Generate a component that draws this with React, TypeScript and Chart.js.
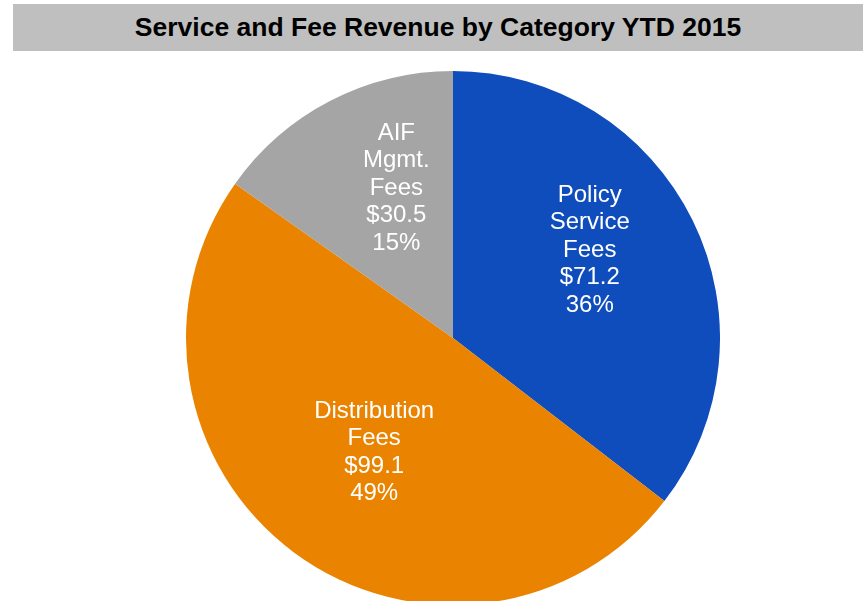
import React, { useEffect, useRef } from "react";
import { Chart, registerables } from "chart.js";

Chart.register(...registerables);

const categories: string[][] = [
  ["Policy", "Service", "Fees"],
  ["Distribution", "Fees"],
  ["AIF", "Mgmt.", "Fees"],
];
const values: number[] = [71.2, 99.1, 30.5];
const valueLabels: string[] = ["$71.2", "$99.1", "$30.5"];
const percentLabels: string[] = ["36%", "49%", "15%"];
const colors: string[] = ["#104DBC", "#E98300", "#A5A5A5"];
const title = "Service and Fee Revenue by Category YTD 2015";

// label placement styling: radial fraction and angular shift (degrees)
const labelRadius: number[] = [0.612, 0.515, 0.605];
const labelAngleShift: number[] = [-7.0, -1.5, 6.8];

const labelPlugin = {
  id: "sliceLabels",
  afterDatasetsDraw(chart: any) {
    const ctx = chart.ctx;
    const meta = chart.getDatasetMeta(0);
    ctx.save();
    ctx.fillStyle = "#FFFFFF";
    ctx.font = "24px 'Liberation Sans', Arial, sans-serif";
    ctx.textAlign = "center";
    ctx.textBaseline = "middle";
    const lineH = 27.5;
    meta.data.forEach((arc: any, i: number) => {
      const p = arc.getProps(["x", "y", "startAngle", "endAngle", "outerRadius"], true);
      const mid = (p.startAngle + p.endAngle) / 2 + (labelAngleShift[i] * Math.PI) / 180;
      const r = p.outerRadius * labelRadius[i];
      const cx = p.x + Math.cos(mid) * r;
      const cy = p.y + Math.sin(mid) * r + 1.5;
      const lines = [...categories[i], valueLabels[i], percentLabels[i]];
      const top = cy - ((lines.length - 1) * lineH) / 2;
      lines.forEach((ln, j) => ctx.fillText(ln, cx, top + j * lineH));
    });
    ctx.restore();
  },
};

export default function App() {
  const ref = useRef<HTMLCanvasElement | null>(null);
  useEffect(() => {
    if (!ref.current) return;
    const chart = new Chart(ref.current, {
      type: "pie",
      data: {
        labels: categories.map((c) => c.join(" ")),
        datasets: [
          {
            data: values,
            backgroundColor: colors,
            borderWidth: 0,
          },
        ],
      },
      options: {
        animation: false,
        responsive: false,
        maintainAspectRatio: false,
        rotation: 0,
        layout: { padding: 0 },
        plugins: {
          legend: { display: false },
          tooltip: { enabled: false },
          title: { display: false },
        },
      },
      plugins: [labelPlugin],
    });
    return () => chart.destroy();
  }, []);

  return (
    <div
      style={{
        position: "fixed",
        left: 0,
        top: 0,
        width: 863,
        height: 601,
        overflow: "hidden",
        background: "#FFFFFF",
      }}
    >
      <div
        style={{
          position: "absolute",
          left: 13,
          top: 4,
          width: 850,
          height: 47,
          background: "#BFBFBF",
          display: "flex",
          alignItems: "center",
          justifyContent: "center",
          fontFamily: "'Liberation Sans', Arial, sans-serif",
          fontWeight: "bold",
          fontSize: 26.5,
          color: "#000000",
        }}
      >
        {title}
      </div>
      <canvas
        ref={ref}
        width={534}
        height={534}
        style={{ position: "absolute", left: 186, top: 71, width: 534, height: 534 }}
      />
    </div>
  );
}
